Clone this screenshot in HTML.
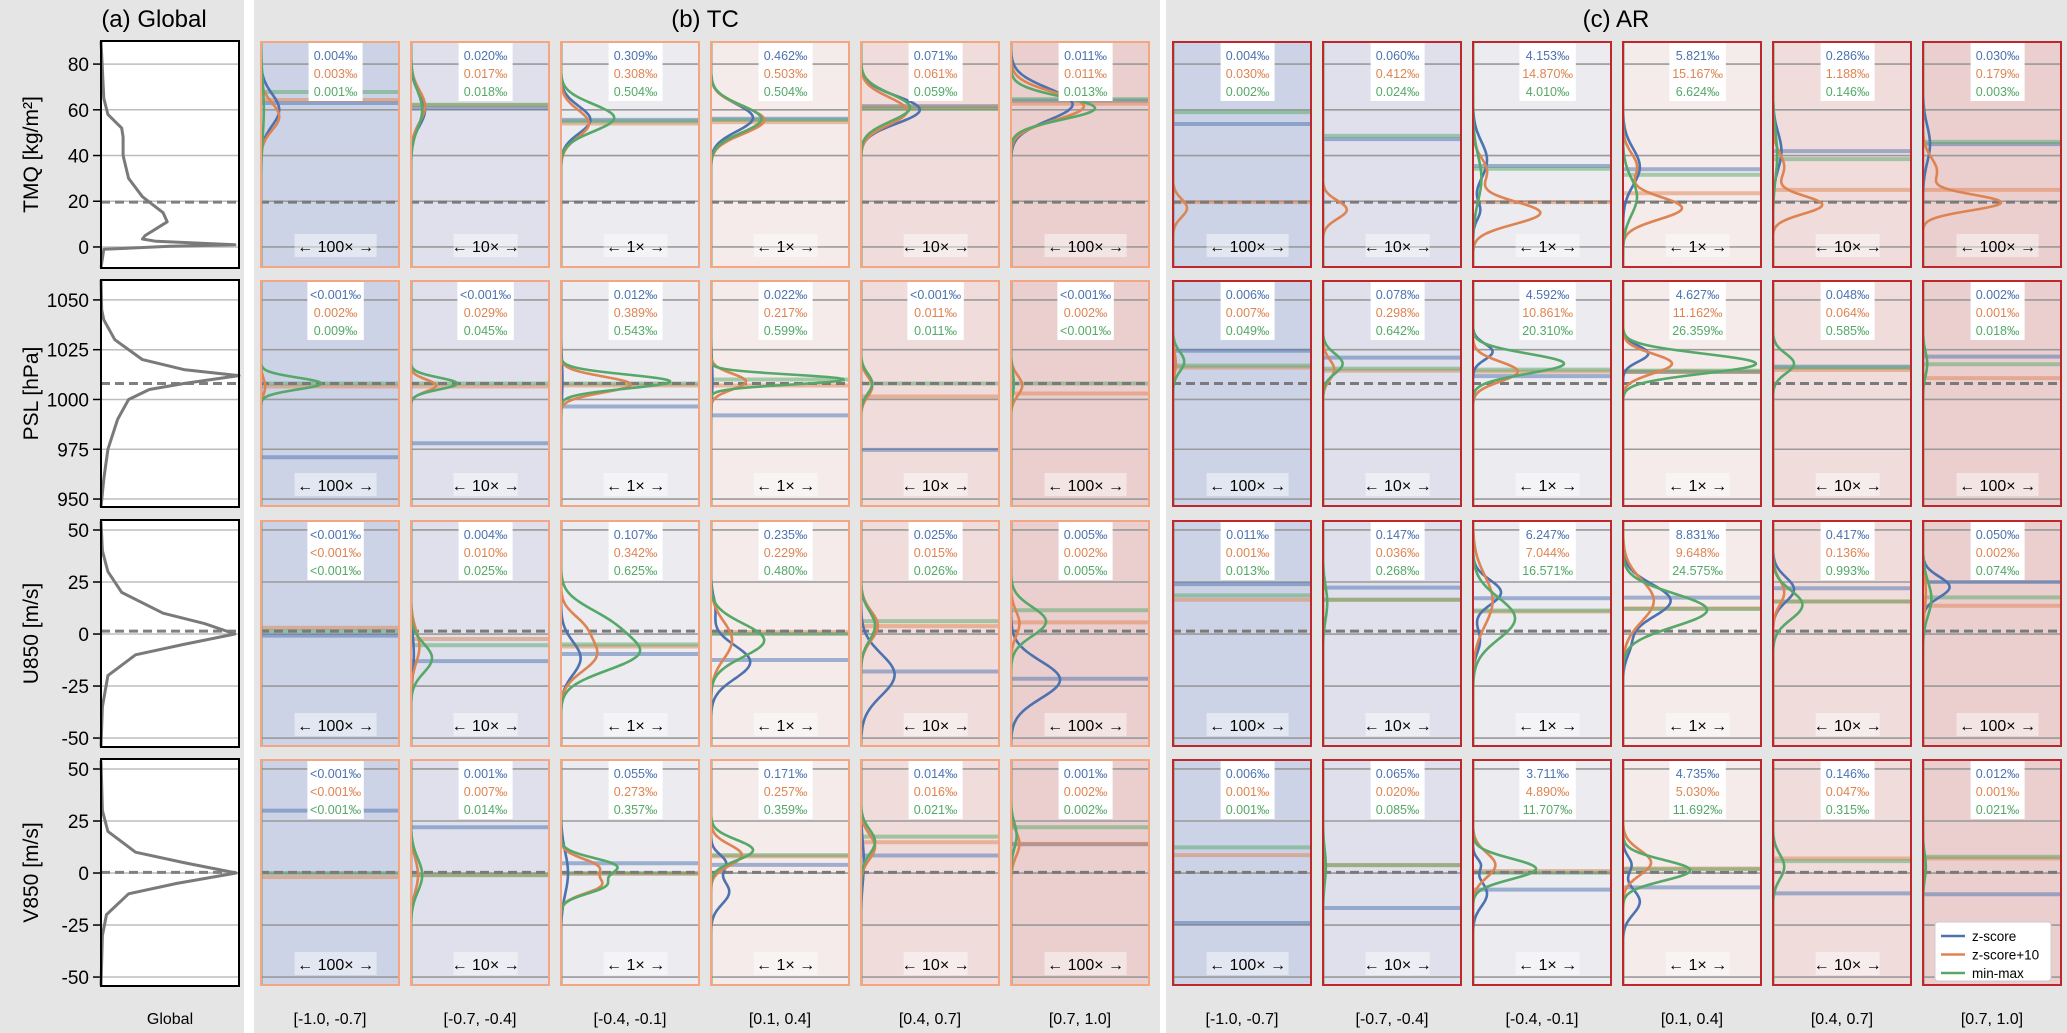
<!DOCTYPE html>
<html><head><meta charset="utf-8"><style>
html,body{margin:0;padding:0;background:#fff;}
svg{display:block;font-family:"Liberation Sans","DejaVu Sans",sans-serif;}
</style></head><body>
<svg id="fig" width="2067" height="1033" viewBox="0 0 2067 1033" xmlns="http://www.w3.org/2000/svg">
<rect x="0" y="0" width="2067" height="1033" fill="#ffffff"/>
<rect x="0" y="0" width="244" height="1033" fill="#e5e5e5"/>
<rect x="254" y="0" width="906" height="1033" fill="#e5e5e5"/>
<rect x="1166" y="0" width="901" height="1033" fill="#e5e5e5"/>
<text x="154" y="27" font-size="24" text-anchor="middle">(a) Global</text>
<text x="705" y="27" font-size="24" text-anchor="middle">(b) TC</text>
<text x="1616" y="27" font-size="24" text-anchor="middle">(c) AR</text>
<g id="layer"></g>
</svg>
<script>
const varNames = ['TMQ [kg/m²]','PSL [hPa]','U850 [m/s]','V850 [m/s]'];
const yMins = [-9.2, 946, -54.3, -54.3];
const yMaxs = [90.1, 1060, 54.8, 54.8];
const yTicks = [[0,20,40,60,80],[950,975,1000,1025,1050],[-50,-25,0,25,50],[-50,-25,0,25,50]];
const globalMeans = [19.6, 1008, 1.4, 0.3];
const binLabels = ['[-1.0, -0.7]','[-0.7, -0.4]','[-0.4, -0.1]','[0.1, 0.4]','[0.4, 0.7]','[0.7, 1.0]'];
const scaleLabels = ['← 100× →','← 10× →','← 1× →','← 1× →','← 10× →','← 100× →'];
const seriesNames = ['z-score','z-score+10','min-max'];
const seriesColors = ['#4c72b0','#dd8452','#55a868'];
const binColors = ['#cdd3e6','#dfe0ec','#ebebf0','#f5ebeb','#f1dcdc','#ebcfcf'];

const globalVals = [
 [90,65,58,52,48,40,30,22,15,11,8,5,3.5,2.5,1,0.3,-1,-9],
 [1060,1045,1040,1030,1020,1015,1012,1008,1005,1000,990,975,960,946],
 [54,40,30,20,10,5,0,-5,-10,-20,-35,-54],
 [54,30,20,10,5,0,-5,-10,-20,-30,-54]
];
const globalDens = [
 [0,0.02,0.05,0.15,0.16,0.16,0.2,0.3,0.45,0.48,0.4,0.32,0.3,0.4,0.97,0.5,0.02,0],
 [0,0.005,0.02,0.1,0.3,0.6,1.0,0.6,0.35,0.2,0.12,0.05,0.02,0],
 [0,0.01,0.05,0.15,0.45,0.75,0.97,0.6,0.25,0.05,0.01,0],
 [0,0.01,0.05,0.25,0.6,0.98,0.55,0.2,0.04,0.01,0]
];

const tcPct = [
 [['0.004‰','0.003‰','0.001‰'],['0.020‰','0.017‰','0.018‰'],['0.309‰','0.308‰','0.504‰'],['0.462‰','0.503‰','0.504‰'],['0.071‰','0.061‰','0.059‰'],['0.011‰','0.011‰','0.013‰']],
 [['<0.001‰','0.002‰','0.009‰'],['<0.001‰','0.029‰','0.045‰'],['0.012‰','0.389‰','0.543‰'],['0.022‰','0.217‰','0.599‰'],['<0.001‰','0.011‰','0.011‰'],['<0.001‰','0.002‰','<0.001‰']],
 [['<0.001‰','<0.001‰','<0.001‰'],['0.004‰','0.010‰','0.025‰'],['0.107‰','0.342‰','0.625‰'],['0.235‰','0.229‰','0.480‰'],['0.025‰','0.015‰','0.026‰'],['0.005‰','0.002‰','0.005‰']],
 [['<0.001‰','<0.001‰','<0.001‰'],['0.001‰','0.007‰','0.014‰'],['0.055‰','0.273‰','0.357‰'],['0.171‰','0.257‰','0.359‰'],['0.014‰','0.016‰','0.021‰'],['0.001‰','0.002‰','0.002‰']]
];
const arPct = [
 [['0.004‰','0.030‰','0.002‰'],['0.060‰','0.412‰','0.024‰'],['4.153‰','14.870‰','4.010‰'],['5.821‰','15.167‰','6.624‰'],['0.286‰','1.188‰','0.146‰'],['0.030‰','0.179‰','0.003‰']],
 [['0.006‰','0.007‰','0.049‰'],['0.078‰','0.298‰','0.642‰'],['4.592‰','10.861‰','20.310‰'],['4.627‰','11.162‰','26.359‰'],['0.048‰','0.064‰','0.585‰'],['0.002‰','0.001‰','0.018‰']],
 [['0.011‰','0.001‰','0.013‰'],['0.147‰','0.036‰','0.268‰'],['6.247‰','7.044‰','16.571‰'],['8.831‰','9.648‰','24.575‰'],['0.417‰','0.136‰','0.993‰'],['0.050‰','0.002‰','0.074‰']],
 [['0.006‰','0.001‰','0.001‰'],['0.065‰','0.020‰','0.085‰'],['3.711‰','4.890‰','11.707‰'],['4.735‰','5.030‰','11.692‰'],['0.146‰','0.047‰','0.315‰'],['0.012‰','0.001‰','0.021‰']]
];

// curve components per subplot: [blue, orange, green], each = list of [peak, sigma, amplitude]
const tcCurves = [
 [[[[60,7,0.13]],[[57,6,0.13]],[[60,12,0.02]]],[[[60,7,0.1]],[[61.5,7,0.1]],[[60,8,0.08]]],[[[55.6,6,0.21]],[[54,6,0.2]],[[56.5,6,0.38]]],[[[56.5,6,0.3]],[[55.5,6,0.38]],[[56,6,0.36]]],[[[60,6,0.42]],[[59.5,6,0.33]],[[61,6,0.35]]],[[[62.4,7,0.44]],[[61.5,6,0.52]],[[60.7,5,0.6]]]],
 [[[],[[1006.5,4,0.03]],[[1008,3,0.43]]],[[],[[1007,3,0.18]],[[1008,3,0.33]]],[[[1010,10,0.01]],[[1007.5,4,0.5]],[[1009,3.5,0.78]]],[[[1010,10,0.01]],[[1009,4,0.25]],[[1010,2.5,0.95]]],[[],[[1006.5,5,0.08]],[[1008,5,0.08]]],[[],[[1007,5,0.08]],[[1008,6,0.02]]]],
 [[[],[],[]],[[[-10,10,0.02]],[[-6,8,0.06]],[[-11.6,7,0.15]]],[[[-11.6,8,0.14]],[[-10,8,0.25],[4,6,0.12]],[[-10,8,0.5],[5,8,0.3]]],[[[-13.5,8,0.28],[12,6,0.03]],[[-3,9,0.15]],[[-3,8,0.38]]],[[[-19.6,10,0.24]],[[4,7,0.12]],[[4,7,0.1]]],[[[-22,9,0.35]],[[5,6,0.06]],[[6,7,0.25]]]],
 [[[],[],[]],[[],[[-1,8,0.05]],[[-1,8,0.08]]],[[[0,10,0.05]],[[3,4,0.25],[-6,4,0.27]],[[3.3,4,0.38],[-6,4,0.3]]],[[[-9,6,0.13],[5,4,0.1]],[[8.6,5,0.22]],[[11,5,0.3]]],[[[5,10,0.02]],[[12.6,6,0.1]],[[15,6,0.1]]],[[],[[14,6,0.06]],[[18,6,0.04]]]]
];
const arCurves = [
 [[[],[[17,4,0.1]],[]],[[],[[16.3,4,0.17]],[]],[[[38,8,0.1],[16,4,0.05]],[[14.9,5,0.48],[33,6,0.1]],[[30,10,0.06]]],[[[35,8,0.12]],[[17,5,0.42],[35,6,0.1]],[[22,8,0.1]]],[[[42,8,0.06]],[[18.4,4,0.35],[35,6,0.08]],[[40,10,0.03]]],[[[45,8,0.05]],[[19.4,3.5,0.55],[33,6,0.1]],[]]],
 [[[],[[1018,5,0.02]],[[1019,5,0.08]]],[[],[[1015,5,0.08]],[[1018,5,0.14]]],[[[1024,4,0.14]],[[1014,5,0.32]],[[1018,5,0.65]]],[[[1023,4,0.18]],[[1018,5,0.35]],[[1018,5,0.95]]],[[],[],[[1018,5,0.15]]],[[],[],[[1018,6,0.03]]]],
 [[[],[],[]],[[],[],[[15,8,0.03]]],[[[20,6,0.2],[-3,6,0.05]],[[16,12,0.14]],[[7.5,10,0.3]]],[[[16,8,0.34],[-5,6,0.05]],[[16,10,0.22]],[[11.5,8,0.6]]],[[[21.4,6,0.15]],[[20,6,0.08]],[[14,7,0.21]]],[[[22.6,5,0.19]],[[20,8,0.02]],[[17,8,0.06]]]],
 [[[],[],[]],[[],[],[[3,8,0.02]]],[[[-10,6,0.1],[4,3,0.05]],[[3.8,6,0.16]],[[2,5,0.45]]],[[[-13.8,6,0.12],[4,4,0.06]],[[5,6,0.2]],[[1.3,5,0.48]]],[[],[],[[3,6,0.08]]],[[],[],[[3,6,0.02]]]]
];
// mean lines [blue, orange, green]
const tcMeans = [
 [[63,64.3,67.8],[60.8,62,62.2],[55.6,54,55],[56.1,54.6,55.6],[61.6,61.2,60.5],[64,62.7,64.7]],
 [[971,1006.5,1008],[978,1006.5,1008],[996.5,1007,1008],[992,1007,1010],[974.7,1001.5,1008],[null,1003,1008]],
 [[-0.8,3,1.4],[-13,-2.4,-5.4],[-9.6,-6,-5],[-12.5,1,0],[-18,3.8,6.2],[-21.5,5.6,11.4]],
 [[30,-2,0],[22,-1,-1],[4.7,-0.5,0],[3.9,8,8.6],[8.4,14.8,17.5],[13.8,14,22]]
];
const arMeans = [
 [[53.8,19.6,59],[47.2,null,48.6],[35.4,19.6,34.2],[34,23.5,31.6],[41.9,25,38.4],[45,25,46]],
 [[1024.5,1016,1017],[1021,1014.4,1015.5],[1011.7,1014,1015],[1013.8,1014,1014.5],[1016.5,1014.8,1016],[1021.5,1010.7,1017.7]],
 [[24,16.5,18.6],[22.3,16.5,16.5],[17.2,10.8,11.3],[17.5,12.3,12],[22,15.6,15.6],[25,13.6,17.6]],
 [[-24,8.6,12.3],[-16.8,3.8,3.8],[-8,1,0.1],[-6.9,2.2,1.8],[-9.8,7,5.7],[-10.2,7,7.8]]
];

const NS='http://www.w3.org/2000/svg';
const layer=document.getElementById('layer');
const rowTops=[41,280,520,759], rowH=227;
function mk(tag,attrs,parent){const e=document.createElementNS(NS,tag);for(const k in attrs)e.setAttribute(k,attrs[k]);(parent||layer).appendChild(e);return e;}
function yScale(r,v){return rowTops[r]+(yMaxs[r]-v)/(yMaxs[r]-yMins[r])*rowH;}
let clipId=0;

// Panel a
for(let r=0;r<4;r++){
  const x0=101,w=138,t=rowTops[r];
  const g=mk('g',{});
  
  
  mk('rect',{x:x0,y:t,width:w,height:rowH,fill:'#fff'},g);
  yTicks[r].forEach(tv=>{
    const y=yScale(r,tv);
    mk('line',{x1:x0,x2:x0+w,y1:y,y2:y,stroke:'#bdbdbd','stroke-width':1.5},g);
    mk('line',{x1:x0-8,x2:x0,y1:y,y2:y,stroke:'#000','stroke-width':1.5},g);
    const tx=mk('text',{x:x0-12,y:y+7,'font-size':19,'text-anchor':'end'},g);
    tx.textContent=tv;
    
    
  });
  const dy=yScale(r,globalMeans[r]);
  mk('line',{x1:x0,x2:x0+w,y1:dy,y2:dy,stroke:'#808080','stroke-width':3,'stroke-dasharray':'9,5'},g);
  let d='';
  globalVals[r].forEach((v,i)=>{d+=(i?'L':'M')+(x0+globalDens[r][i]*w).toFixed(1)+','+yScale(r,v).toFixed(1);});
  const p=mk('path',{d:d,fill:'none',stroke:'#7a7a7a','stroke-width':3,'stroke-linejoin':'round'},g);
  
  
  mk('rect',{x:x0,y:t,width:w,height:rowH,fill:'none',stroke:'#000','stroke-width':2},g);
  const lab=mk('text',{x:0,y:0,'font-size':21,'text-anchor':'middle',transform:`translate(38,${t+rowH/2}) rotate(-90)`});
  lab.textContent=varNames[r];
  
  
}
const gl=mk('text',{x:170,y:1024,'font-size':16,'text-anchor':'middle'});
gl.textContent='Global';



function curvePath(r,x0,w,comps){
  let d='';
  for(let y=rowTops[r];y<=rowTops[r]+rowH;y+=1){
    const v=yMaxs[r]-(y-rowTops[r])/rowH*(yMaxs[r]-yMins[r]);
    let s=0;comps.forEach(c=>{s+=c[2]*Math.exp(-0.5*Math.pow((v-c[0])/c[1],2));});
    d+=(d?'L':'M')+(x0+1+s*w).toFixed(1)+','+y;
  }
  return d;
}

function drawPanel(px0,border,pct,curves,means,prefix){
  for(let r=0;r<4;r++){
    for(let c=0;c<6;c++){
      const x0=px0+150*c,w=140,t=rowTops[r];
      const g=mk('g',{});
      
      
      const id='clip'+(clipId++);
      const cp=mk('clipPath',{id:id},g);mk('rect',{x:x0,y:t,width:w,height:rowH},cp);
      const inner=mk('g',{'clip-path':`url(#${id})`},g);
      mk('rect',{x:x0,y:t,width:w,height:rowH,fill:binColors[c]},inner);
      yTicks[r].forEach(tv=>{const y=yScale(r,tv);mk('line',{x1:x0,x2:x0+w,y1:y,y2:y,stroke:'#9a9a9a','stroke-width':1.6},inner);});
      for(let s=0;s<3;s++){
        const mv=means[r][c][s];
        if(mv===null)continue;
        const y=yScale(r,mv);
        const ml=mk('line',{x1:x0,x2:x0+w,y1:y,y2:y,stroke:seriesColors[s],'stroke-width':4,'stroke-opacity':0.5},inner);
        
        
      }
      const dy=yScale(r,globalMeans[r]);
      mk('line',{x1:x0,x2:x0+w,y1:dy,y2:dy,stroke:'#7a7a7a','stroke-width':3,'stroke-dasharray':'9,5'},inner);
      for(let s=0;s<3;s++){
        const comps=curves[r][c][s];
        const pth=mk('path',{d:curvePath(r,x0,w,comps),fill:'none',stroke:seriesColors[s],'stroke-width':2.6},inner);
        
        
      }
      const cx=x0+w*0.54;
      const bw=Math.max(54, pct[r][c].reduce((m,s)=>Math.max(m,s.length),0)*7.2+6);
      mk('rect',{x:cx-bw/2,y:t+2,width:bw,height:58,fill:'#fff'},inner);
      for(let s=0;s<3;s++){
        const tx=mk('text',{x:cx,y:t+19+18*s,'font-size':12.5,'text-anchor':'middle',fill:seriesColors[s]},inner);
        tx.textContent=pct[r][c][s];
        
        
      }
      const sw=scaleLabels[c].length>7?82:64;
      mk('rect',{x:cx-sw/2,y:t+rowH-34,width:sw,height:23,fill:'#fff','fill-opacity':0.45},inner);
      const st=mk('text',{x:cx,y:t+rowH-16,'font-size':16,'text-anchor':'middle'},inner);
      st.textContent=scaleLabels[c];
      
      
      mk('rect',{x:x0+1,y:t+1,width:w-2,height:rowH-2,fill:'none',stroke:border,'stroke-width':2},g);
    }
  }
  for(let c=0;c<6;c++){
    const bt=mk('text',{x:px0+150*c+70,y:1024,'font-size':16,'text-anchor':'middle'});
    bt.textContent=binLabels[c];
    
    
  }
}
drawPanel(260,'#f4a582',tcPct,tcCurves,tcMeans,'tc');
drawPanel(1172,'#c0272d',arPct,arCurves,arMeans,'ar');

// legend
const lg=mk('g',{});


mk('rect',{x:1935,y:922,width:116,height:59,rx:3,fill:'#fff',stroke:'#ccc','stroke-width':1},lg);
for(let s=0;s<3;s++){
  const y=936+18.5*s;
  const ln=mk('line',{x1:1941,x2:1965,y1:y,y2:y,stroke:seriesColors[s],'stroke-width':2.5},lg);
  
  
  const tx=mk('text',{x:1972,y:y+5,'font-size':13.5},lg);
  tx.textContent=seriesNames[s];
  
  
}
</script>
</body></html>
